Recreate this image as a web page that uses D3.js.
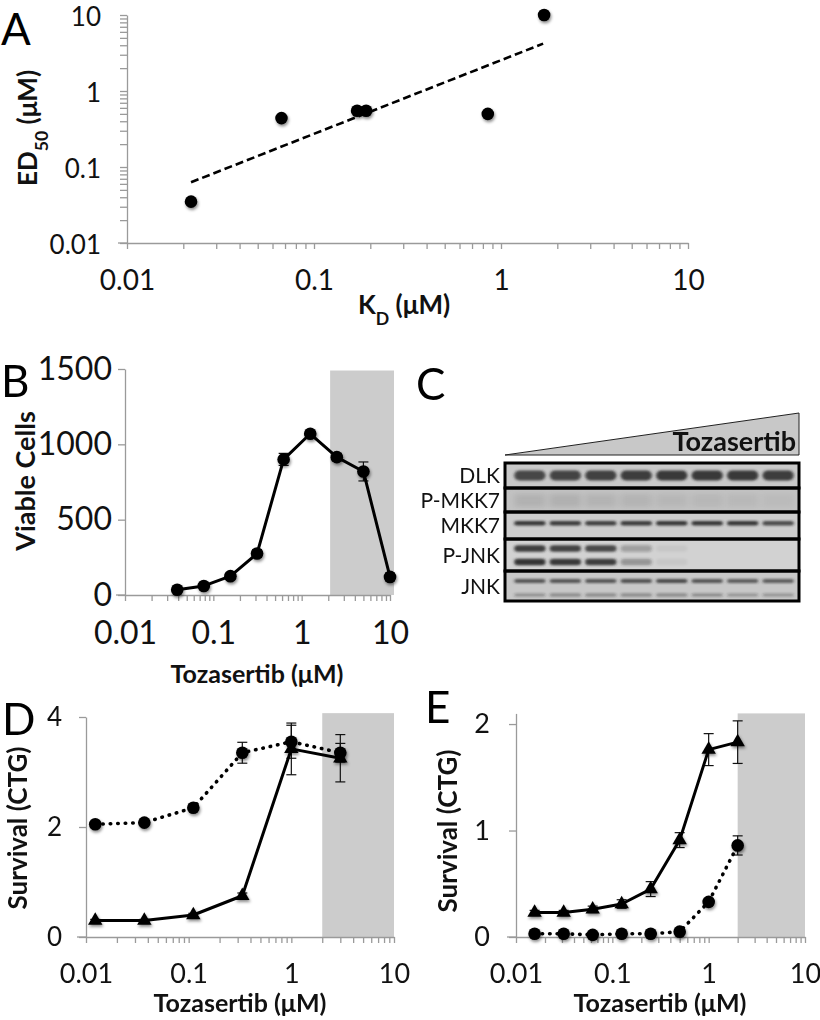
<!DOCTYPE html>
<html>
<head>
<meta charset="utf-8">
<script src="https://cdn.jsdelivr.net/npm/d3@7"></script>
<style>
  body { margin: 0; background: #fff; }
  svg { display: block; font-family: Lato, "Open Sans", sans-serif; }
  .axis path, .axis line { stroke: #9a9a9a; stroke-width: 1.3; }
  .axis text { fill: #111; font-family: Lato, sans-serif; }
  .title { font-weight: 700; fill: #111; }
  .letter { font-size: 44px; fill: #000; }
</style>
</head>
<body>
<div id="chart"></div>
<script>
// ---- Panel A: KD vs ED50
const aKd = [0.022, 0.067, 0.17, 0.19, 0.85, 1.7];
const aEd50 = [0.035, 0.44, 0.55, 0.55, 0.50, 10];
const aTrendKd = [0.022, 1.68];
const aTrendEd50 = [0.063, 4.2];

// ---- Panel B: viable cells
const bDose = [0.039, 0.078, 0.156, 0.3125, 0.625, 1.25, 2.5, 5, 10];
const bCells = [35, 60, 125, 275, 900, 1070, 915, 820, 120];
const bErr = [10, 12, 20, 25, 40, 15, 25, 63, 25];
const bYTicks = [0, 500, 1000, 1500];

// ---- Panel C: western blot (band intensity per lane, 0..1)
const blotLabels = ["DLK", "P-MKK7", "MKK7", "P-JNK", "JNK"];
const blotLanes = [1, 2, 3, 4, 5, 6, 7, 8];
const dlkBand = [0.82, 0.84, 0.86, 0.88, 0.9, 0.9, 0.92, 0.88];
const pMkk7Band = [0.3, 0.32, 0.28, 0.26, 0.22, 0.2, 0.18, 0.14];
const mkk7Band = [0.92, 0.88, 0.86, 0.88, 0.92, 0.92, 0.92, 0.8];
const pJnkUpper = [0.88, 0.85, 0.82, 0.3, 0.05, 0, 0, 0];
const pJnkLower = [0.95, 0.9, 0.88, 0.35, 0.05, 0, 0, 0];
const jnkUpper = [0.72, 0.72, 0.72, 0.75, 0.8, 0.72, 0.68, 0.68];
const jnkLower = [0.35, 0.42, 0.42, 0.42, 0.42, 0.38, 0.32, 0.32];

// ---- Panel D: survival, 3-fold dilution
const dDose = [0.0123, 0.037, 0.111, 0.333, 1, 3];
const dCircle = [2.05, 2.08, 2.35, 3.35, 3.55, 3.35];
const dCircleErr = [0.03, 0.03, 0.05, 0.19, 0.3, 0.17];
const dTri = [0.30, 0.30, 0.40, 0.75, 3.42, 3.25];
const dTriErr = [0.02, 0.02, 0.03, 0.05, 0.47, 0.43];
const dYTicks = [0, 2, 4];

// ---- Panel E: survival, 2-fold dilution
const eDose = [0.0156, 0.03125, 0.0625, 0.125, 0.25, 0.5, 1, 2];
const eTri = [0.23, 0.23, 0.26, 0.31, 0.45, 0.91, 1.76, 1.83];
const eTriErr = [0.02, 0.02, 0.03, 0.04, 0.07, 0.07, 0.15, 0.2];
const eCircle = [0.03, 0.03, 0.02, 0.03, 0.03, 0.05, 0.33, 0.86];
const eCircleErr = [0.01, 0.01, 0.01, 0.01, 0.01, 0.01, 0.03, 0.09];
const eYTicks = [0, 1, 2];

const isMajor = d => Math.abs(Math.log10(d) - Math.round(Math.log10(d))) < 1e-6;
const fmt = d => isMajor(d) ? String(+d.toPrecision(1)) : "";

const svg = d3.select("#chart").append("svg")
  .attr("width", 820)
  .attr("height", 1020);

const defs = svg.append("defs");
const shadow = defs.append("filter").attr("id", "shadow")
  .attr("x", "-60%").attr("y", "-60%").attr("width", "220%").attr("height", "220%");
shadow.append("feDropShadow")
  .attr("dx", 1).attr("dy", 2).attr("stdDeviation", 1.8)
  .attr("flood-color", "#000").attr("flood-opacity", 0.45);
const blur = defs.append("filter").attr("id", "blur")
  .attr("x", "-20%").attr("y", "-100%").attr("width", "140%").attr("height", "300%");
blur.append("feGaussianBlur").attr("stdDeviation", "1.4 0.9");
const smear = defs.append("filter").attr("id", "smear")
  .attr("x", "-20%").attr("y", "-100%").attr("width", "140%").attr("height", "300%");
smear.append("feGaussianBlur").attr("stdDeviation", "3 2.5");

// log x axis with minor ticks
function xAxis(g, x, y0, fontSize, padding) {
  const ax = g.append("g").attr("class", "axis")
    .attr("transform", `translate(0,${y0})`)
    .call(d3.axisBottom(x).tickValues(x.ticks()).tickFormat(fmt).tickSize(6).tickPadding(padding).tickSizeOuter(0));
  ax.selectAll("text").style("font-size", fontSize + "px");
  // axis line continues a little left of the y axis
  g.append("line")
    .attr("x1", x.range()[0] - 9).attr("x2", x.range()[0])
    .attr("y1", y0).attr("y2", y0)
    .style("stroke", "#9a9a9a").style("stroke-width", 1.3);
  return ax;
}

function yAxis(g, y, x0, ticks, fontSize, padding, format) {
  const ax = g.append("g").attr("class", "axis")
    .attr("transform", `translate(${x0},0)`)
    .call(d3.axisLeft(y).tickValues(ticks).tickFormat(format).tickSize(7).tickPadding(padding).tickSizeOuter(0));
  ax.selectAll("text").style("font-size", fontSize + "px");
  return ax;
}

function errorBars(g, x, y, xs, ys, errs) {
  const data = xs.map((d, i) => ({x: d, y: ys[i], e: errs[i]}));
  const eg = g.append("g").attr("stroke", "#111").attr("stroke-width", 1.2);
  eg.selectAll("line.v").data(data).enter().append("line")
    .attr("x1", d => x(d.x)).attr("x2", d => x(d.x))
    .attr("y1", d => y(d.y - d.e)).attr("y2", d => y(d.y + d.e));
  eg.selectAll("line.t").data(data).enter().append("line")
    .attr("x1", d => x(d.x) - 5).attr("x2", d => x(d.x) + 5)
    .attr("y1", d => y(d.y + d.e)).attr("y2", d => y(d.y + d.e));
  eg.selectAll("line.b").data(data).enter().append("line")
    .attr("x1", d => x(d.x) - 5).attr("x2", d => x(d.x) + 5)
    .attr("y1", d => y(d.y - d.e)).attr("y2", d => y(d.y - d.e));
}

function series(g, x, y, xs, ys, symbol, dotted) {
  const pts = xs.map((d, i) => [d, ys[i]]);
  const line = d3.line().x(d => x(d[0])).y(d => y(d[1]));
  g.append("path").datum(pts)
    .attr("d", line)
    .attr("fill", "none")
    .attr("stroke", "#000")
    .attr("stroke-width", dotted ? 3.6 : 3)
    .attr("stroke-linecap", "round")
    .attr("stroke-linejoin", "round")
    .attr("stroke-dasharray", dotted ? "0.5 7" : null);
  g.append("g").attr("filter", "url(#shadow)")
    .selectAll("path").data(pts).enter().append("path")
    .attr("transform", d => `translate(${x(d[0])},${y(d[1])})`)
    .attr("d", d3.symbol().type(symbol).size(symbol === d3.symbolCircle ? 125 : 90))
    .attr("fill", "#000");
}

function title(g, x, y, parts, size, rotate) {
  const t = g.append("text").attr("class", "title")
    .attr("transform", `translate(${x},${y})` + (rotate ? " rotate(-90)" : ""))
    .attr("text-anchor", "middle")
    .style("font-size", size + "px");
  parts.forEach(p => {
    const s = t.append("tspan").text(p.t);
    if (p.sub) s.attr("baseline-shift", "sub").style("font-size", (size * 0.68) + "px");
  });
  return t;
}

function letter(label, x, y) {
  svg.append("text").attr("class", "letter").attr("x", x).attr("y", y).text(label);
}

// ================= Panel A =================
{
  const g = svg.append("g");
  const x = d3.scaleLog().domain([0.01, 10]).range([127, 688]);
  const y = d3.scaleLog().domain([0.01, 10]).range([243, 15]);
  xAxis(g, x, 243, 28, 21);
  const ya = yAxis(g, y, 127, y.ticks(), 26, 19, fmt);
  ya.selectAll("text").attr("dy", "0.42em");
  letter("A", 1, 45);
  g.append("path").datum(aTrendKd.map((d, i) => [d, aTrendEd50[i]]))
    .attr("d", d3.line().x(d => x(d[0])).y(d => y(d[1])))
    .attr("stroke", "#000").attr("stroke-width", 2.6)
    .attr("stroke-dasharray", "8 4").attr("fill", "none");
  g.append("g").attr("filter", "url(#shadow)")
    .selectAll("circle").data(aKd).enter().append("circle")
    .attr("cx", d => x(d)).attr("cy", (d, i) => y(aEd50[i]))
    .attr("r", 6.3).attr("fill", "#000");
  title(g, 37, 128, [{t: "ED"}, {t: "50", sub: true}, {t: " (μM)"}], 26, true);
  title(g, 404, 314, [{t: "K"}, {t: "D", sub: true}, {t: " (μM)"}], 26, false);
}

// ================= Panel B =================
{
  const g = svg.append("g");
  const x = d3.scaleLog().domain([0.01, 10]).range([125, 390]);
  const y = d3.scaleLinear().domain([0, 1500]).range([595, 369]);
  g.append("rect")
    .attr("x", x(2.1)).attr("width", x(11.1) - x(2.1))
    .attr("y", y(1490)).attr("height", y(0) - y(1490))
    .attr("fill", "#cccccc");
  xAxis(g, x, 595, 32, 20);
  yAxis(g, y, 125, bYTicks, 32, 6, d3.format("d"));
  letter("B", 1, 397);
  errorBars(g, x, y, bDose, bCells, bErr);
  series(g, x, y, bDose, bCells, d3.symbolCircle, false);
  title(g, 35, 481, [{t: "Viable Cells"}], 27, true);
  title(g, 257, 683, [{t: "Tozasertib (μM)"}], 25, false);
}

// ================= Panel C =================
{
  const g = svg.append("g");
  letter("C", 416, 400);
  // increasing-dose wedge
  g.append("path")
    .attr("d", "M505,455 L799,413 L799,455 Z")
    .attr("fill", "#c8c8c8").attr("stroke", "#222").attr("stroke-width", 1);
  g.append("text").attr("class", "title")
    .attr("x", 796).attr("y", 451).attr("text-anchor", "end")
    .style("font-size", "27px").text("Tozasertib");

  const lane = d3.scaleBand().domain(blotLanes).range([510, 798]).padding(0.12);
  const rowEdges = [463, 488, 512, 539, 571, 601];
  const rowBg = ["#c9c9c9", "#c2c2c2", "#cdcdcd", "#d2d2d2", "#c8c8c8"];
  // bands: [rowIndex, offset within row (fraction), height, intensities]
  const bands = [
    [0, 0.5, 10, dlkBand],
    [2, 0.42, 4.5, mkk7Band],
    [3, 0.3, 6.5, pJnkUpper],
    [3, 0.72, 6.5, pJnkLower],
    [4, 0.33, 4, jnkUpper],
    [4, 0.8, 3, jnkLower]
  ];
  blotLabels.forEach((lab, r) => {
    g.append("rect")
      .attr("x", 505).attr("width", 294)
      .attr("y", rowEdges[r]).attr("height", rowEdges[r + 1] - rowEdges[r])
      .attr("fill", rowBg[r]);
  });
  // faint P-MKK7 smears
  g.append("g").attr("filter", "url(#smear)")
    .selectAll("rect").data(pMkk7Band).enter().append("rect")
    .attr("x", (d, i) => lane(blotLanes[i]))
    .attr("width", lane.bandwidth())
    .attr("y", 494).attr("height", 13)
    .attr("fill", "#8c8c8c")
    .attr("opacity", d => d);
  const bandG = g.append("g").attr("filter", "url(#blur)");
  bands.forEach(([r, off, h, vals]) => {
    const cy = rowEdges[r] + off * (rowEdges[r + 1] - rowEdges[r]);
    bandG.selectAll(null).data(vals).enter().append("rect")
      .attr("x", (d, i) => lane(blotLanes[i]))
      .attr("width", lane.bandwidth())
      .attr("y", cy - h / 2).attr("height", h)
      .attr("rx", h / 2)
      .attr("fill", "#2a2a2a")
      .attr("opacity", d => d);
  });
  blotLabels.forEach((lab, r) => {
    g.append("rect")
      .attr("x", 505).attr("width", 294)
      .attr("y", rowEdges[r]).attr("height", rowEdges[r + 1] - rowEdges[r])
      .attr("fill", "none").attr("stroke", "#000").attr("stroke-width", 3);
    g.append("text")
      .attr("x", 500).attr("y", (rowEdges[r] + rowEdges[r + 1]) / 2)
      .attr("dy", "0.36em").attr("text-anchor", "end")
      .style("font-size", "21px").attr("fill", "#111")
      .text(lab);
  });
}

// ================= Panel D =================
{
  const g = svg.append("g");
  const x = d3.scaleLog().domain([0.01, 10]).range([86, 394]);
  const y = d3.scaleLinear().domain([0, 4]).range([937, 717]);
  g.append("rect")
    .attr("x", x(2)).attr("width", x(10) - x(2))
    .attr("y", y(4.07)).attr("height", y(0) - y(4.07))
    .attr("fill", "#cccccc");
  xAxis(g, x, 937, 27, 21);
  yAxis(g, y, 86, dYTicks, 26, 17, d3.format("d"));
  letter("D", 2, 735);
  errorBars(g, x, y, dDose, dTri, dTriErr);
  errorBars(g, x, y, dDose, dCircle, dCircleErr);
  series(g, x, y, dDose, dCircle, d3.symbolCircle, true);
  series(g, x, y, dDose, dTri, d3.symbolTriangle, false);
  title(g, 27, 828, [{t: "Survival (CTG)"}], 26, true);
  title(g, 240, 1012, [{t: "Tozasertib (μM)"}], 25, false);
}

// ================= Panel E =================
{
  const g = svg.append("g");
  const x = d3.scaleLog().domain([0.01, 10]).range([516, 805]);
  const y = d3.scaleLinear().domain([0, 2.1]).range([937, 713.4]);
  g.append("rect")
    .attr("x", x(2)).attr("width", x(10) - x(2))
    .attr("y", y(2.1)).attr("height", y(0) - y(2.1))
    .attr("fill", "#cccccc");
  xAxis(g, x, 937, 27, 21);
  yAxis(g, y, 516, eYTicks, 27, 19, d3.format("d"));
  letter("E", 425, 723);
  errorBars(g, x, y, eDose, eTri, eTriErr);
  errorBars(g, x, y, eDose, eCircle, eCircleErr);
  series(g, x, y, eDose, eCircle, d3.symbolCircle, true);
  series(g, x, y, eDose, eTri, d3.symbolTriangle, false);
  title(g, 457, 831, [{t: "Survival (CTG)"}], 26, true);
  title(g, 660, 1012, [{t: "Tozasertib (μM)"}], 25, false);
}
</script>
</body>
</html>
